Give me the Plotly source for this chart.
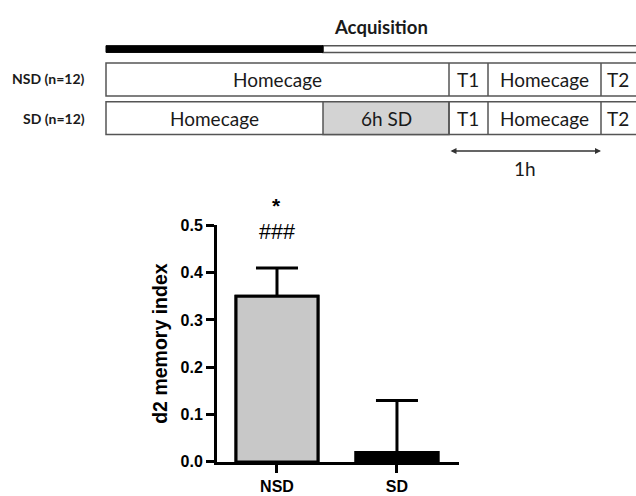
import plotly.graph_objects as go

# ---- data ----
groups = ["NSD", "SD"]
means = [0.35, 0.02]
sem = [0.06, 0.11]
bar_colors = ["#c8c8c8", "#000000"]
y_ticks = [0.0, 0.1, 0.2, 0.3, 0.4, 0.5]
sig_marks = ["*", "###"]

row_labels = ["NSD (n=12)", "SD (n=12)"]
nsd_segments = ["Homecage", "T1", "Homecage", "T2"]
sd_segments = ["Homecage", "6h SD", "T1", "Homecage", "T2"]
header = "Acquisition"
duration = "1h"

W, H = 636, 496
def X(p): return p / W
def Y(p): return 1 - p / H

BAR_W = 0.683
fig = go.Figure()
# bars carrying the error bars (lower part hidden by the overlay bars)
fig.add_trace(go.Bar(
    x=groups, y=means, width=BAR_W,
    marker=dict(color=bar_colors, line=dict(color="black", width=3)),
    error_y=dict(type="data", array=sem, arrayminus=means, symmetric=False,
                 color="black", thickness=3, width=21),
    showlegend=False, hoverinfo="skip",
))
fig.add_trace(go.Bar(
    x=groups, y=means, width=BAR_W,
    marker=dict(color=bar_colors, line=dict(color="black", width=3)),
    showlegend=False,
))

shapes = []
line_c = "#555555"
shapes.append(dict(type="rect", xref="paper", yref="paper", x0=X(323), x1=X(645), y0=Y(46), y1=Y(39),
                   fillcolor="white", line=dict(color=line_c, width=1.5)))
shapes.append(dict(type="rect", xref="paper", yref="paper", x0=X(106), x1=X(323), y0=Y(46), y1=Y(39),
                   fillcolor="black", line=dict(color="black", width=1)))
rows_y = [(57, 91), (97, 131)]
for (t, b) in rows_y:
    shapes.append(dict(type="rect", xref="paper", yref="paper", x0=X(106), x1=X(645), y0=Y(b), y1=Y(t),
                       fillcolor="white", line=dict(color=line_c, width=1.5)))
shapes.append(dict(type="rect", xref="paper", yref="paper", x0=X(323), x1=X(449), y0=Y(131), y1=Y(97),
                   fillcolor="#d3d3d3", line=dict(color=line_c, width=1.5)))
for (t, b) in rows_y:
    for xv in [449, 488, 601]:
        shapes.append(dict(type="line", xref="paper", yref="paper", x0=X(xv), x1=X(xv), y0=Y(b), y1=Y(t),
                           line=dict(color=line_c, width=1.5)))

ann = []
diag_font = dict(family="Lato, Carlito, sans-serif", size=19, color="#1a1a1a")
ann.append(dict(text="<b>" + header + "</b>", x=X(381), y=Y(20), xref="paper", yref="paper",
                showarrow=False, xanchor="center", yanchor="middle",
                font=dict(family="Lato, sans-serif", size=18.5, color="#1a1a1a")))
for lbl, yc in zip(row_labels, [73, 114]):
    ann.append(dict(text="<b>" + lbl + "</b>", x=X(87), y=Y(yc), xref="paper", yref="paper",
                    showarrow=False, xanchor="right", yanchor="middle",
                    font=dict(family="Lato, sans-serif", size=14, color="#1a1a1a")))
for txt, xc in zip(nsd_segments, [277, 468, 544, 618]):
    ann.append(dict(text=txt, x=X(xc), y=Y(74), xref="paper", yref="paper", showarrow=False,
                    xanchor="center", yanchor="middle", font=diag_font))
for txt, xc in zip(sd_segments, [214, 386, 468, 544, 618]):
    ann.append(dict(text=txt, x=X(xc), y=Y(114), xref="paper", yref="paper", showarrow=False,
                    xanchor="center", yanchor="middle", font=diag_font))
# double arrow
ann.append(dict(text="", x=X(601), y=Y(148), ax=-152, ay=0, xref="paper", yref="paper",
                axref="pixel", ayref="pixel", showarrow=True, arrowhead=2, arrowside="end+start",
                arrowsize=0.8, arrowwidth=1.5, arrowcolor="#333333"))
ann.append(dict(text=duration, x=X(525), y=Y(166), xref="paper", yref="paper", showarrow=False,
                xanchor="center", yanchor="middle", font=diag_font))
# significance marks
ann.append(dict(text="<b>" + sig_marks[0] + "</b>", x=groups[0], y=Y(218), xref="x", yref="paper",
                showarrow=False, xanchor="center", yanchor="bottom",
                font=dict(family="Liberation Sans, Arial", size=21, color="black")))
ann.append(dict(text=sig_marks[1], x=groups[0], y=Y(232), xref="x", yref="paper", showarrow=False,
                xanchor="center", yanchor="middle",
                font=dict(family="Liberation Sans, Arial", size=21.5, color="black")))

axis_font = dict(family="Liberation Sans, Arial", size=16, color="black")
fig.update_layout(
    width=W, height=H, margin=dict(l=0, r=0, t=0, b=0),
    plot_bgcolor="white", paper_bgcolor="white", barmode="overlay",
    shapes=shapes, annotations=ann,
    xaxis=dict(domain=[X(217), X(459)], range=[-0.5, 1.517], showline=True, linecolor="black",
               linewidth=3, ticks="outside", ticklen=8, tickwidth=3, tickcolor="black",
               showgrid=False, zeroline=False,
               tickvals=groups, ticktext=["<b>" + g + "</b>" for g in groups], tickfont=axis_font),
    yaxis=dict(domain=[Y(470), Y(225)], range=[0, 0.5], showline=True, linecolor="black",
               linewidth=3, ticks="outside", ticklen=8, tickwidth=3, tickcolor="black",
               showgrid=False, zeroline=False, tickvals=y_ticks,
               ticktext=["<b>%.1f</b>" % v for v in y_ticks], tickfont=axis_font,
               title=dict(text="<b>d2 memory index</b>", standoff=8,
                          font=dict(family="Liberation Sans, Arial", size=19.5, color="black"))),
)

fig.write_html("out.html", config={"displayModeBar": False},
               post_script="document.body.style.margin='0';")
